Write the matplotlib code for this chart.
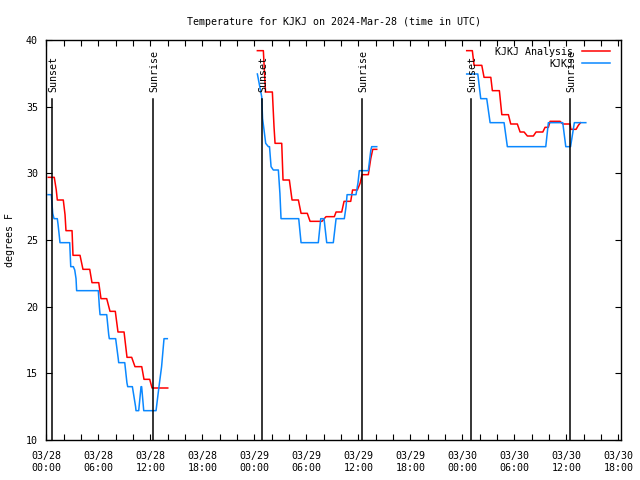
# Temperature chart for KJKJ, gnuplot-like look
import datetime as dt
import matplotlib
matplotlib.use("Agg")
import matplotlib.pyplot as plt
import matplotlib.dates as mdates

base = dt.datetime(2024, 3, 28)

# hours after 2024-03-28 00:00 UTC, and temperatures in deg F
red1_h = [0.23, 0.92, 1.15, 1.27, 1.96, 2.16, 2.27, 2.97, 3.08, 3.89, 4.23, 5.01, 5.27, 6.05,
          6.31, 6.97, 7.35, 7.96, 8.27, 8.97, 9.31, 9.85, 10.23, 11.01, 11.27, 11.93, 12.2, 14.01]
red1_t = [29.7, 29.7, 28.75, 28.0, 28.0, 26.9, 25.7, 25.7, 23.85, 23.85, 22.8, 22.8, 21.8, 21.8,
          20.6, 20.6, 19.65, 19.65, 18.1, 18.1, 16.2, 16.2, 15.5, 15.5, 14.55, 14.55, 13.9, 13.9]
blue1_h = [0.2, 0.58, 0.74, 0.89, 1.27, 1.35, 1.5, 1.58, 2.7, 2.82, 3.12, 3.28, 3.43, 3.5, 6.0,
           6.12, 6.2, 6.97, 7.2, 7.27, 8.0, 8.3, 8.35, 9.05, 9.3, 9.39, 9.93, 10.3, 10.35, 10.66,
           10.93, 11.0, 11.24, 12.66, 13.0, 13.3, 13.58, 13.96]
blue1_t = [28.4, 28.4, 27.0, 26.6, 26.6, 26.2, 25.3, 24.8, 24.8, 23.0, 23.0, 22.75, 22.1, 21.2, 21.2,
           20.0, 19.4, 19.4, 17.9, 17.6, 17.6, 16.1, 15.8, 15.8, 14.3, 14.0, 14.0, 12.5, 12.2, 12.2,
           14.0, 14.0, 12.2, 12.2, 14.0, 15.5, 17.6, 17.6]

red2_h = [24.35, 25.04, 25.29, 26.08, 26.27, 26.39, 27.16, 27.31, 28.04, 28.35, 29.08, 29.39, 30.11,
          30.43, 31.8, 32.27, 33.23, 33.43, 34.08, 34.35, 35.12, 35.33, 35.88, 36.2, 36.43, 37.15,
          37.43, 37.66, 38.12]
red2_t = [39.2, 39.2, 36.1, 36.1, 33.5, 32.25, 32.25, 29.5, 29.5, 28.0, 28.0, 27.0, 27.0,
          26.4, 26.4, 26.75, 26.75, 27.1, 27.1, 27.9, 27.9, 28.75, 28.75, 29.25, 29.9, 29.9,
          31.1, 31.8, 31.8]
blue2_h = [24.35, 24.85, 24.95, 25.12, 25.31, 25.62, 25.75, 25.93, 26.19, 26.77, 26.95, 27.08,
           29.12, 29.39, 31.38, 31.66, 32.04, 32.35, 33.11, 33.43, 34.38, 34.58, 34.7, 35.73,
           35.96, 36.11, 37.15, 37.43, 37.54, 38.12]
blue2_t = [37.45, 35.75, 34.1, 33.25, 32.25, 32.0, 32.0, 30.5, 30.25, 30.25, 28.5, 26.6,
           26.6, 24.8, 24.8, 26.6, 26.6, 24.8, 24.8, 26.6, 26.6, 27.5, 28.4, 28.4,
           29.3, 30.2, 30.2, 31.7, 32.0, 32.0]

red3_h = [48.5, 49.15, 49.35, 50.24, 50.5, 51.28, 51.46, 52.27, 52.55, 53.31, 53.58, 54.34, 54.66,
          55.12, 55.5, 56.19, 56.5, 57.28, 57.54, 57.92, 58.12, 59.27, 59.58, 60.43, 60.51, 61.12,
          61.38, 61.64]
red3_t = [39.2, 39.2, 38.1, 38.1, 37.2, 37.2, 36.2, 36.2, 34.4, 34.4, 33.7, 33.7, 33.1,
          33.1, 32.8, 32.8, 33.1, 33.1, 33.45, 33.45, 33.9, 33.9, 33.7, 33.7, 33.3, 33.3,
          33.6, 33.8]
blue3_h = [48.5, 49.78, 50.12, 50.81, 51.2, 52.81, 53.19, 57.62, 57.92, 59.58, 59.93, 60.48,
           60.92, 62.24]
blue3_t = [37.45, 37.45, 35.6, 35.6, 33.8, 33.8, 32.0, 32.0, 33.8, 33.8, 32.0, 32.0,
           33.8, 33.8]

sunset_h = [0.7, 24.9, 49.04]
sunrise_h = [12.35, 36.46, 60.4]


def to_dt(hours):
    return [base + dt.timedelta(hours=h) for h in hours]


plt.rcParams['font.family'] = 'DejaVu Sans Mono'
plt.rcParams['font.size'] = 7.2

fig = plt.figure(figsize=(6.4, 4.8), dpi=100)
ax = fig.add_axes([46.3 / 640, 40 / 480, (621 - 46.3) / 640, 400 / 480])

red = '#ff0000'
blue = '#0a88ff'
ax.plot(to_dt(red1_h), red1_t, color=red, lw=1.1, label='KJKJ Analysis')
ax.plot(to_dt(blue1_h), blue1_t, color=blue, lw=1.1, label='KJKJ')
ax.plot(to_dt(red2_h), red2_t, color=red, lw=1.1)
ax.plot(to_dt(blue2_h), blue2_t, color=blue, lw=1.1)
ax.plot(to_dt(red3_h), red3_t, color=red, lw=1.1)
ax.plot(to_dt(blue3_h), blue3_t, color=blue, lw=1.1)

# sunset / sunrise markers
for name, hours in [('Sunset', sunset_h), ('Sunrise', sunrise_h)]:
    for t in to_dt(hours):
        ax.plot([t, t], [10, 35.6], color='black', lw=1.1)
        ax.text(t + dt.timedelta(minutes=8), 36.1, name, rotation=90, ha='center', va='bottom')

ax.set_ylim(10, 40)
ax.set_yticks(range(10, 41, 5))
ax.set_xlim(base, base + dt.timedelta(hours=66.3))
ax.xaxis.set_major_locator(mdates.HourLocator(byhour=[0, 6, 12, 18]))
ax.xaxis.set_minor_locator(mdates.HourLocator(byhour=range(0, 24, 2)))
ax.xaxis.set_major_formatter(mdates.DateFormatter('%m/%d\n%H:%M'))
ax.tick_params(which='both', direction='in', top=True, right=True, length=4, width=0.8)
ax.tick_params(axis='x', pad=8)
ax.tick_params(axis='y', pad=6)
for s in ax.spines.values():
    s.set_linewidth(1.0)

ax.set_ylabel('degrees F', labelpad=8)
ax.set_title('Temperature for KJKJ on 2024-Mar-28 (time in UTC)', fontsize=7.2, pad=11)

ax.legend(loc='upper right', bbox_to_anchor=(0.993, 1.0), frameon=False, markerfirst=False,
          handlelength=2.8, handletextpad=0.9, labelspacing=0.2, borderaxespad=0.3)

fig.savefig('out.png', dpi=100)
